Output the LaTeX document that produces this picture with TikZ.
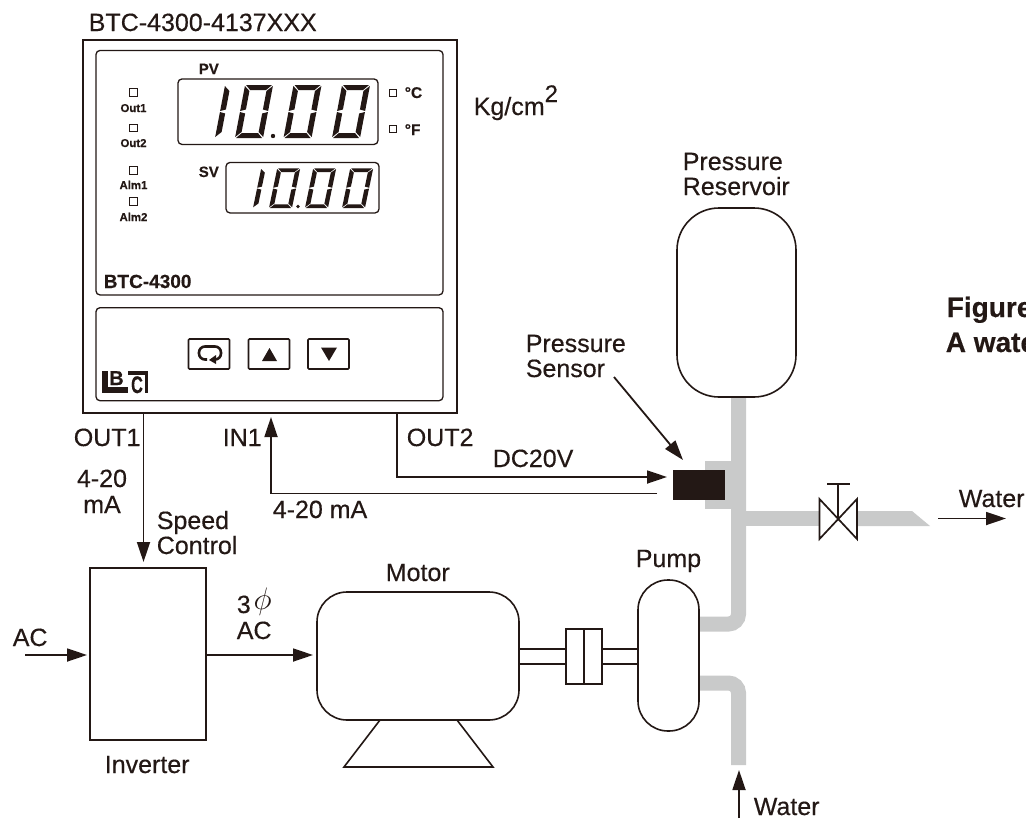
\documentclass[tikz,border=0pt]{standalone}
\usepackage{fontspec}
\setmainfont{Liberation Sans}[RawFeature={embolden=0.4}]
\usetikzlibrary{arrows.meta}
\definecolor{ink}{HTML}{231815}
\definecolor{pipegray}{HTML}{C9CACA}
\tikzset{
  lab/.style={font=\fontsize{25}{25}\selectfont, text=ink, inner sep=0pt, anchor=base west, xshift=-1pt},
  blab/.style={font=\bfseries\fontsize{#1}{#1}\selectfont, text=ink, inner sep=0pt, anchor=base west},
  box/.style={draw=ink, fill=white, line width=1.6pt, inner sep=0pt, outer sep=0pt},
  ledbox/.style={box, line width=1pt, minimum size=7.5pt},
  keybox/.style={box, rounded corners=1pt, minimum width=41pt, minimum height=30pt},
  sig/.style={draw=ink, line width=1.8pt, -{Triangle[length=20pt,width=13pt]}},
  pipe/.style={draw=pipegray, line width=15pt, rounded corners=10pt},
}
\newcommand{\segzero}[2]{\begin{scope}[shift={#1},#2,xslant=.19]
  \fill[ink] (1,0) -- (27,0) -- (22,-5) -- (6,-5) -- cycle;
  \fill[ink] (1,-53) -- (27,-53) -- (22,-48) -- (6,-48) -- cycle;
  \fill[ink] (0,-1) -- (5.5,-6) -- (5.5,-24.5) -- (0,-26) -- cycle;
  \fill[ink] (0,-27) -- (5.5,-28.5) -- (5.5,-47) -- (0,-52) -- cycle;
  \fill[ink] (28,-1) -- (22.5,-6) -- (22.5,-24.5) -- (28,-26) -- cycle;
  \fill[ink] (28,-27) -- (22.5,-28.5) -- (22.5,-47) -- (28,-52) -- cycle;
\end{scope}}
\newcommand{\segone}[2]{\begin{scope}[shift={#1},#2,xslant=.19]
  \fill[ink] (0,-1) -- (5.5,-6) -- (5.5,-24.5) -- (0,-26) -- cycle;
  \fill[ink] (0,-27) -- (5.5,-28.5) -- (5.5,-47) -- (0,-52) -- cycle;
\end{scope}}
\begin{document}
\begin{tikzpicture}[x=1pt, y=-1pt, line width=1.6pt]
  \useasboundingbox (0,0) rectangle (1026,819);
  \clip (0,0) rectangle (1026,819);
  \coordinate (riserTop) at (738.5,397); \coordinate (riserTee) at (738.5,518.5); \coordinate (pumpOut) at (699,624);
  \coordinate (pumpIn) at (699,683); \coordinate (supplyEnd) at (738.5,765); \coordinate (branchEnd) at (820,518.5);
  \draw[pipe] (pumpOut) -- (738.5,624) -- (riserTop);
  \draw[pipe] (pumpIn) -- (738.5,683) -- (supplyEnd);
  \draw[pipe, rounded corners=0pt] (riserTee) -- (branchEnd);
  \fill[pipegray] (857,511) -- (912,511) -- (930,526) -- (857,526) -- cycle;
  \fill[pipegray] (705,461) rectangle (731,509);
  \node[box, minimum width=374pt, minimum height=373pt] (ctrl) at (270,226.5) {};
  \node[box, rounded corners=4pt, line width=1.3pt, minimum width=347pt, minimum height=244.5pt] (display) at (269.5,172.7) {};
  \node[box, rounded corners=4pt, line width=1.3pt, minimum width=347pt, minimum height=93pt] (keypad) at (269.5,354.2) {};
  \node[box, rounded corners=4pt, line width=1.3pt, minimum width=200pt, minimum height=65.5pt] (pvbox) at (278,111.7) {};
  \node[box, rounded corners=4pt, line width=1.3pt, minimum width=153pt, minimum height=50.5pt] (svbox) at (302.5,187.7) {};
  \segone{(215,138)}{}
  \segzero{(235,138)}{}
  \segzero{(283.5,138)}{}
  \segzero{(332,138)}{}
  \fill[ink] (273,136) circle (2.2);
  \segone{(253,208)}{xscale=.82,yscale=.75}
  \segzero{(269,208)}{xscale=.82,yscale=.75}
  \segzero{(305,208)}{xscale=.82,yscale=.75}
  \segzero{(342,208)}{xscale=.82,yscale=.75}
  \fill[ink] (298,206.5) circle (1.9);
  \node[lab] (title) at (89,31) {BTC-4300-4137XXX};
  \node[lab] (unit) at (474,115) {Kg/cm\raisebox{13pt}{\fontsize{24}{24}\selectfont 2}};
  \node[blab=15] (pvlab) at (198,74) {PV};
  \node[blab=15] (svlab) at (198,177) {SV};
  \node[blab=19] (model) at (103,288) {BTC-4300};
  \node[ledbox] (ledOne) at (133.5,92.7) {};
  \node[ledbox] (ledTwo) at (133.5,128) {};
  \node[ledbox] (ledThree) at (133.5,170.7) {};
  \node[ledbox] (ledFour) at (133.5,201.7) {};
  \node[blab=11.4, anchor=base] (outOneLab) at (133.5,112) {Out1};
  \node[blab=11.4, anchor=base] (outTwoLab) at (133.5,147) {Out2};
  \node[blab=11.4, anchor=base] (almOneLab) at (133.5,189) {Alm1};
  \node[blab=11.4, anchor=base] (almTwoLab) at (133.5,221) {Alm2};
  \node[ledbox] (ledC) at (393,93) {};
  \node[ledbox] (ledF) at (393,129) {};
  \node[blab=15.5] (degC) at (404,98) {°C};
  \node[blab=15.5] (degF) at (404,135) {°F};
  \node[keybox] (keyLoop) at (209,354) {};
  \node[keybox] (keyUp) at (269,354) {};
  \node[keybox] (keyDown) at (328.5,354) {};
  \draw[ink, line width=2.6pt, rounded corners=6pt] (207,359.5) -- (199,359.5) -- (199,346.5) -- (221,346.5) -- (221,359.5) -- (215,359.5);
  \fill[ink] (216,355) -- (216,364) -- (209,360) -- cycle;
  \fill[ink] (269.5,348) -- (277,361) -- (262,361) -- cycle;
  \fill[ink] (321,347.5) -- (337,347.5) -- (329,361) -- cycle;
  \fill[ink] (102,371) rectangle (108,393);
  \fill[ink] (102,387) rectangle (128,393);
  \fill[ink] (128,371) rectangle (148,374.5);
  \fill[ink] (144.5,371) rectangle (148,393);
  \node[blab=20, anchor=base] (logoB) at (116.5,385) {B};
  \node[blab=24, anchor=base] (logoC) at (137,393) {\scalebox{.68}[1]{C}};
  \coordinate (outOne) at (143.5,413); \coordinate (inOne) at (271,417); \coordinate (outTwo) at (397,413);
  \coordinate (sensorIn) at (667,477); \coordinate (sensorOut) at (657,493.5); \coordinate (leadStart) at (614,377); \coordinate (leadEnd) at (683,460);
  \node[box, minimum width=116pt, minimum height=172pt] (inverter) at (148,654) {};
  \node[box, rounded corners=30pt, minimum width=202pt, minimum height=128pt] (motor) at (418,656) {};
  \node[box, rounded corners=30pt, minimum width=61pt, minimum height=151pt] (pump) at (668.5,655.5) {};
  \node[box, rounded corners=42pt, minimum width=119pt, minimum height=189pt] (reservoir) at (736.5,302.5) {};
  \node[box, minimum width=36pt, minimum height=55pt] (coupling) at (584,656.5) {};
  \node[draw=none, fill=ink, inner sep=0pt, minimum width=52pt, minimum height=30pt] (sensor) at (699,485) {};
  \coordinate (acStart) at (25,655); \coordinate (waterOutStart) at (938,518.5); \coordinate (waterOutEnd) at (1006,518.5);
  \coordinate (waterInStart) at (739,818); \coordinate (waterInEnd) at (739,770);
  \coordinate (shaftTop) at (584,649); \coordinate (shaftBot) at (584,664);
  \draw[sig] (outOne) -- (143.5,562);
  \draw[sig] (outTwo) |- (sensorIn);
  \draw[sig] (sensorOut) -| (inOne);
  \draw[sig] (leadStart) -- (leadEnd);
  \draw[sig, shorten >=3pt] (acStart) -- (inverter.west |- acStart);
  \draw[sig, shorten >=4pt] (inverter.east |- acStart) -- (motor.west |- acStart);
  \draw[sig] (waterOutStart) -- (waterOutEnd);
  \draw[sig] (waterInStart) -- (waterInEnd);
  \draw[ink] (motor.east |- shaftTop) -- (coupling.west |- shaftTop);
  \draw[ink] (motor.east |- shaftBot) -- (coupling.west |- shaftBot);
  \draw[ink] (coupling.east |- shaftTop) -- (pump.west |- shaftTop);
  \draw[ink] (coupling.east |- shaftBot) -- (pump.west |- shaftBot);
  \draw[ink] (coupling.north) -- (coupling.south);
  \draw[ink, fill=white, line join=miter] (380,720) -- (457,720) -- (493,767) -- (344,767) -- cycle;
  \draw[ink, line width=1.7pt, fill=white] (819.5,499) -- (857,539) -- (857,499) -- (819.5,539) -- cycle;
  \draw[ink, line width=2.8pt] (838,484) -- (838,519);
  \draw[ink, line width=2.8pt] (827,484) -- (850,484);
  \node[lab] (outOneTag) at (74,446) {OUT1};
  \node[lab] (inOneTag) at (223,446) {IN1};
  \node[lab] (outTwoTag) at (407,446) {OUT2};
  \node[lab] (dcTag) at (493,467) {DC20V};
  \node[lab] (loopTag) at (273,518) {4-20 mA};
  \node[lab, anchor=base] (mAtop) at (103,487) {4-20};
  \node[lab, anchor=base] (mAbot) at (103,513) {mA};
  \node[lab] (speedTag) at (157,529) {Speed};
  \node[lab] (controlTag) at (157,554) {Control};
  \node[lab] (threeTag) at (237,613) {3\hspace{3pt}\raisebox{4pt}{\scalebox{1.25}{$\phi$}}};
  \node[lab] (acOutTag) at (237,639) {AC};
  \node[lab] (acInTag) at (13,646) {AC};
  \node[lab] (motorTag) at (386,581) {Motor};
  \node[lab] (inverterTag) at (105,773) {Inverter};
  \node[lab] (pumpTag) at (636,567) {Pump};
  \node[lab] (resTop) at (683,170) {Pressure};
  \node[lab] (resBot) at (683,195) {Reservoir};
  \node[lab] (senTop) at (526,352) {Pressure};
  \node[lab] (senBot) at (526,377) {Sensor};
  \node[lab] (waterOutTag) at (959,507) {Water};
  \node[lab] (waterInTag) at (754,815) {Water};
  \node[blab=28] (figTag) at (946,317) {Figure};
  \node[blab=28] (capTag) at (945,352) {A wate};
\end{tikzpicture}
\end{document}
